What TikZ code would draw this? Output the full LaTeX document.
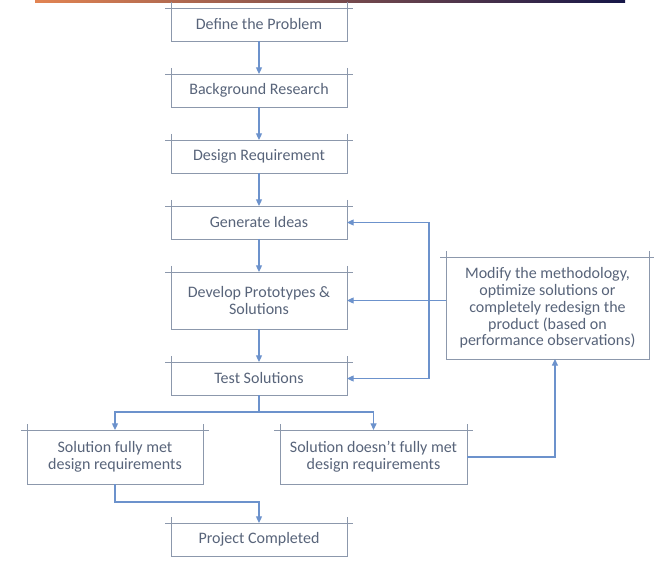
\documentclass[tikz,border=0pt]{standalone}
\usepackage{fontspec}
\setmainfont{Carlito}
\usepackage{tikz}
\usetikzlibrary{arrows.meta, positioning, shadows}
\definecolor{boxline}{RGB}{140,152,172}
\definecolor{flowline}{RGB}{108,146,204}
\definecolor{txt}{RGB}{88,100,122}
\definecolor{barleft}{RGB}{226,132,82}
\definecolor{barmid}{RGB}{178,72,92}
\definecolor{barright}{RGB}{22,22,72}
\tikzset{
    block/.style={rectangle, draw=boxline, line width=0.7pt, fill=white, align=center, text=txt,
        font=\fontsize{12pt}{12.6pt}\selectfont, minimum width=132pt, minimum height=24.75pt, inner sep=2pt, outer sep=0pt,
        drop shadow={shadow xshift=0.4pt, shadow yshift=-0.9pt, opacity=0.18, fill=gray}},
    arrow/.style={draw=flowline, line width=0.9pt, -{Triangle[length=5pt, width=4.5pt]}},
    line/.style={draw=flowline, line width=0.9pt}
}

\begin{document}
\begin{tikzpicture}[node distance=24.75pt]
    \useasboundingbox (0,0) rectangle (490.5pt,-422.25pt);
    \shade[left color=barleft, middle color=barmid, right color=barright] (26.25pt,0) rectangle (468.75pt,-2.25pt);

    \node[block] (define) at (194.25pt,-18.375pt) {Define the Problem};
    \node[block, below=of define] (research) {Background Research};
    \node[block, below=of research] (requirement) {Design Requirement};
    \node[block, below=of requirement] (ideas) {Generate Ideas};
    \node[block, below=of ideas, minimum height=42.75pt] (develop) {Develop Prototypes \&\\ Solutions};
    \node[block, below=of develop] (test) {Test Solutions};
    \node[block, below=26.25pt of test, xshift=-108pt, minimum height=40.5pt] (fullmet) {Solution fully met\\ design requirements};
    \node[block, below=26.25pt of test, xshift=85.9pt, minimum width=140.25pt, minimum height=40.5pt] (notmet) {Solution doesn't fully met\\ design requirements};
    \node[block, below=29.25pt of fullmet, xshift=108pt] (project) {Project Completed};
    \node[block, right=74.25pt of develop, yshift=-5.625pt, minimum width=152.25pt, minimum height=76.5pt] (modify)
        {Modify the methodology,\\ optimize solutions or\\ completely redesign the\\ product (based on\\ performance observations)};

    % top line of each box runs past its corners
    \foreach \n in {define, research, requirement, ideas, develop, test, fullmet, notmet, project, modify}
        \draw[boxline, line width=0.7pt] ([xshift=-4.5pt]\n.north west) -- ([xshift=4.5pt]\n.north east)
            ([yshift=4.5pt]\n.north west) -- (\n.north west) ([yshift=4.5pt]\n.north east) -- (\n.north east);

    \draw[arrow] (define) -- (research);
    \draw[arrow] (research) -- (requirement);
    \draw[arrow] (requirement) -- (ideas);
    \draw[arrow] (ideas) -- (develop);
    \draw[arrow] (develop) -- (test);
    \draw[arrow] (test.south) -- ++(0,-12.75pt) -| (fullmet);
    \draw[arrow] (test.south) -- ++(0,-12.75pt) -| (notmet);
    \draw[arrow] (fullmet.south) -- ++(0,-13.5pt) -| (project);

    % feedback loop
    \coordinate[left=12.75pt of modify.west] (back);
    \draw[arrow] (modify.west |- develop) -- (back |- develop) -- (develop);
    \draw[arrow] (back |- develop) |- (ideas);
    \draw[arrow] (back |- develop) |- (test);
    \draw[arrow] (notmet.east) -| ([xshift=5.6pt]modify.south);
\end{tikzpicture}
\end{document}
